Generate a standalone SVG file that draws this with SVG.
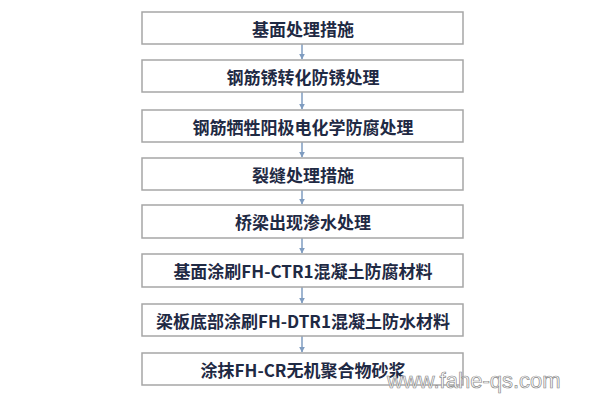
<svg xmlns="http://www.w3.org/2000/svg" width="600" height="400" viewBox="0 0 600 400">
<defs>
<style>
.box{fill:#ffffff;stroke:#a6a6a6;stroke-width:1.5}
.t{font-family:"Noto Sans CJK SC","Liberation Sans",sans-serif;font-size:17px;font-weight:bold;fill:#1f2a44;text-anchor:middle;dominant-baseline:central}
.c{stroke:#7f9cc0;stroke-width:1.5;fill:none;marker-end:url(#ah)}
.wm{font-family:"Liberation Sans",sans-serif;font-size:22px;fill:#ffffff;stroke:#8a8a8a;stroke-width:0.7}
</style>
<marker id="ah" viewBox="0 0 10 10" refX="9" refY="5" markerWidth="6" markerHeight="6" orient="auto" markerUnits="userSpaceOnUse">
<path d="M0,0 L10,5 L0,10 Z" fill="#7f9cc0"/>
</marker>
</defs>
<rect width="600" height="400" fill="#ffffff"/>
<g id="connectors">
<line class="c" x1="302" y1="44" x2="302" y2="59"/>
<line class="c" x1="302" y1="92" x2="302" y2="109"/>
<line class="c" x1="302" y1="142" x2="302" y2="157"/>
<line class="c" x1="302" y1="190" x2="302" y2="204"/>
<line class="c" x1="302" y1="238" x2="302" y2="253"/>
<line class="c" x1="302" y1="287" x2="302" y2="303"/>
<line class="c" x1="302" y1="336" x2="302" y2="352"/>
</g>
<g id="n1"><rect class="box" x="142" y="12" width="321" height="32"/><text class="t" x="303" y="28">基面处理措施</text></g>
<g id="n2"><rect class="box" x="142" y="60" width="321" height="32"/><text class="t" x="303" y="76">钢筋锈转化防锈处理</text></g>
<g id="n3"><rect class="box" x="142" y="110" width="321" height="32"/><text class="t" x="303" y="126">钢筋牺牲阳极电化学防腐处理</text></g>
<g id="n4"><rect class="box" x="142" y="158" width="321" height="32"/><text class="t" x="303" y="174">裂缝处理措施</text></g>
<g id="n5"><rect class="box" x="142" y="205" width="321" height="33"/><text class="t" x="303" y="221">桥梁出现渗水处理</text></g>
<g id="n6"><rect class="box" x="142" y="254" width="321" height="33"/><text class="t" x="303" y="270">基面涂刷FH-CTR1混凝土防腐材料</text></g>
<g id="n7"><rect class="box" x="142" y="304" width="321" height="32"/><text class="t" x="303" y="320">梁板底部涂刷FH-DTR1混凝土防水材料</text></g>
<g id="n8"><rect class="box" x="142" y="353" width="321" height="32"/><text class="t" x="303" y="369">涂抹FH-CR无机聚合物砂浆</text></g>
<text class="wm" x="387" y="388">www.fahe-qs.com</text>
</svg>
